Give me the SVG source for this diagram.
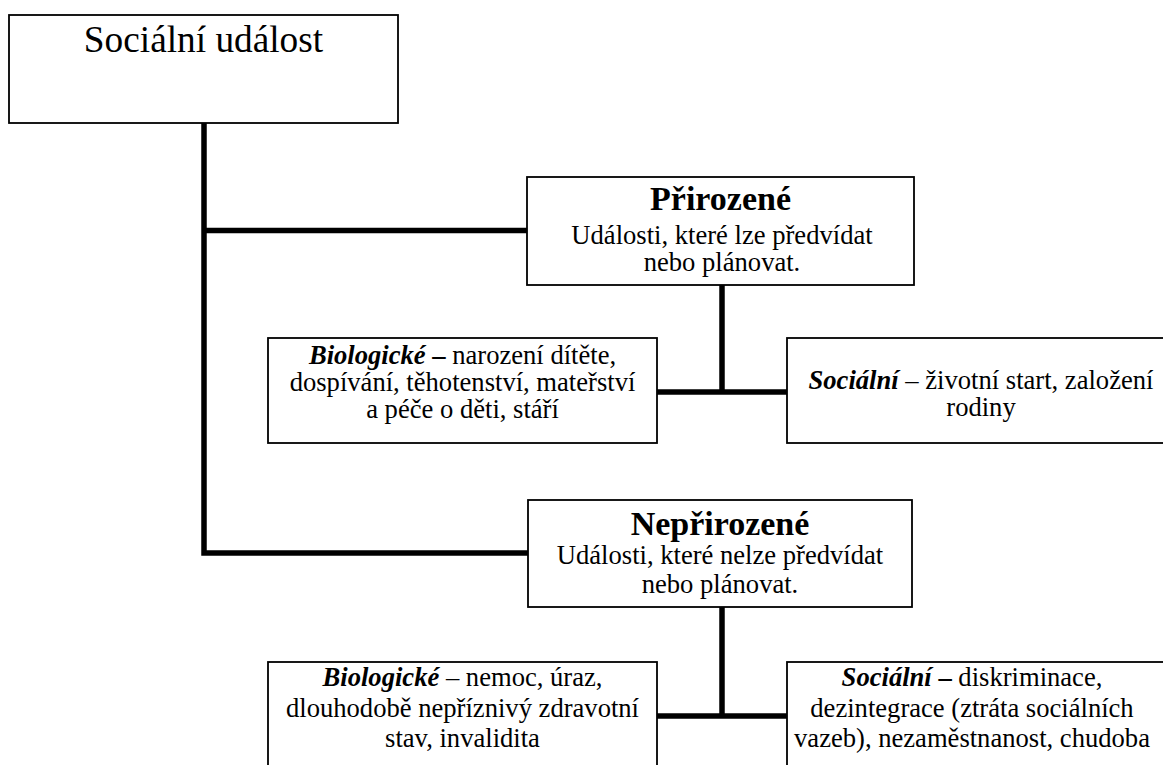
<svg xmlns="http://www.w3.org/2000/svg" width="1163" height="765" viewBox="0 0 1163 765" font-family="'Liberation Serif', 'Times New Roman', Times, 'DejaVu Serif', serif">
  <style>
    .box { fill: #ffffff; stroke: #000000; stroke-width: 1.8; }
    .wire { fill: none; stroke: #000000; stroke-width: 5.5; stroke-linecap: butt; stroke-linejoin: miter; }
    text { font-family: 'Liberation Serif', 'Times New Roman', Times, 'DejaVu Serif', serif; fill: #000000; text-anchor: middle; }
    .root { font-size: 37.3px; }
    .head { font-size: 34px; font-weight: bold; }
    .body { font-size: 26.6px; }
    .bi { font-weight: bold; font-style: italic; }
    .b { font-weight: bold; }
  </style>

  <rect width="1163" height="765" fill="#ffffff"/>

  <!-- connectors -->
  <g id="connectors">
    <polyline class="wire" points="204,123 204,553 528,553"/>
    <line class="wire" x1="204" y1="230.5" x2="527" y2="230.5"/>
    <line class="wire" x1="722" y1="285" x2="722" y2="392"/>
    <line class="wire" x1="657" y1="392" x2="787" y2="392"/>
    <line class="wire" x1="722" y1="607" x2="722" y2="716"/>
    <line class="wire" x1="657" y1="716" x2="787" y2="716"/>
  </g>

  <!-- root -->
  <g id="node-root">
    <rect class="box" x="9" y="15" width="389" height="108"/>
    <text class="root" x="203.5" y="52">Sociální událost</text>
  </g>

  <!-- natural events -->
  <g id="node-prirozene">
    <rect class="box" x="527" y="177" width="387" height="108"/>
    <text class="head" x="720.5" y="210">Přirozené</text>
    <text class="body" x="722" y="244">Události, které lze předvídat</text>
    <text class="body" x="722" y="271">nebo plánovat.</text>
  </g>

  <g id="node-prirozene-bio">
    <rect class="box" x="268" y="338" width="389" height="105"/>
    <text class="body" x="462.5" y="364"><tspan class="bi">Biologické</tspan><tspan class="b"> –</tspan> narození dítěte,</text>
    <text class="body" x="462.5" y="391">dospívání, těhotenství, mateřství</text>
    <text class="body" x="462.5" y="418">a péče o děti, stáří</text>
  </g>

  <g id="node-prirozene-soc">
    <rect class="box" x="787" y="338" width="390" height="105"/>
    <text class="body" x="981" y="389"><tspan class="bi">Sociální</tspan> – životní start, založení</text>
    <text class="body" x="981" y="416">rodiny</text>
  </g>

  <!-- unnatural events -->
  <g id="node-neprirozene">
    <rect class="box" x="528" y="500" width="384" height="107"/>
    <text class="head" x="720" y="535">Nepřirozené</text>
    <text class="body" x="720" y="564">Události, které nelze předvídat</text>
    <text class="body" x="720" y="593">nebo plánovat.</text>
  </g>

  <g id="node-neprirozene-bio">
    <rect class="box" x="268" y="662" width="389" height="115"/>
    <text class="body" x="462.5" y="686"><tspan class="bi">Biologické</tspan> – nemoc, úraz,</text>
    <text class="body" x="462.5" y="717">dlouhodobě nepříznivý zdravotní</text>
    <text class="body" x="462.5" y="747">stav, invalidita</text>
  </g>

  <g id="node-neprirozene-soc">
    <rect class="box" x="787" y="662" width="390" height="115"/>
    <text class="body" x="972" y="686"><tspan class="bi">Sociální</tspan><tspan class="b"> –</tspan> diskriminace,</text>
    <text class="body" x="972" y="717">dezintegrace (ztráta sociálních</text>
    <text class="body" x="972" y="747">vazeb), nezaměstnanost, chudoba</text>
  </g>
</svg>
